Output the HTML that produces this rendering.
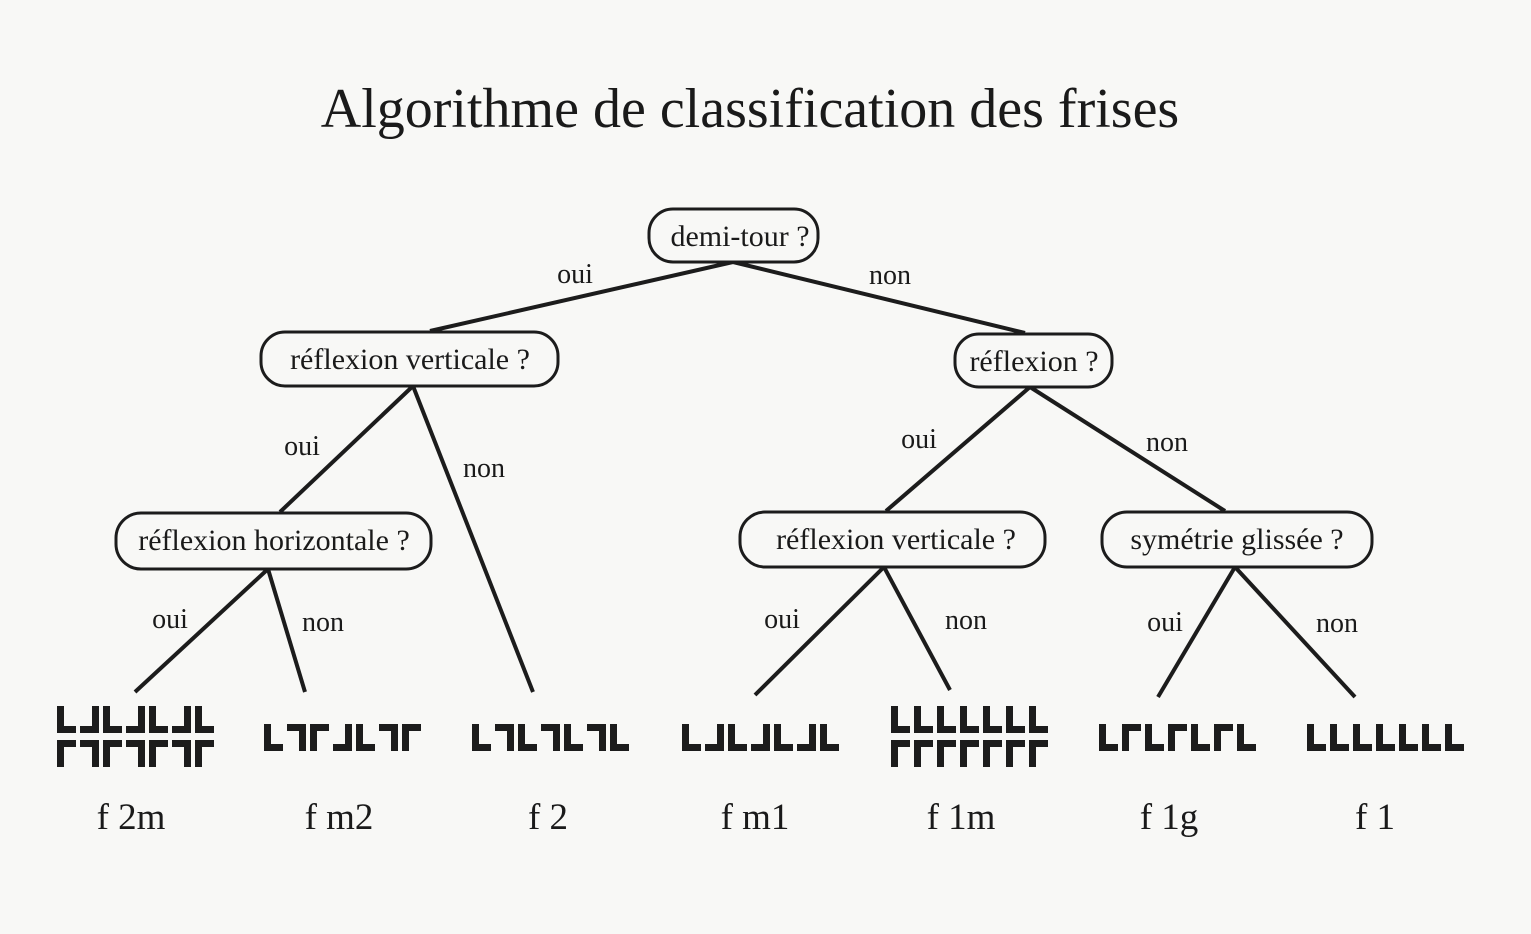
<!DOCTYPE html>
<html><head><meta charset="utf-8"><style>
html,body{margin:0;padding:0;background:#f8f8f6;}
svg{display:block}
text{font-family:"Liberation Serif",serif;fill:#1a1a1a}
</style></head><body>
<svg width="1531" height="934" viewBox="0 0 1531 934" xmlns="http://www.w3.org/2000/svg">
<defs>
<path id="L" d="M0 0H7V20H19V27H0Z" fill="#1c1c1c"/>
</defs>
<rect width="1531" height="934" fill="#f8f8f6"/>
<text x="750" y="127" font-size="56" text-anchor="middle">Algorithme de classification des frises</text>

<g stroke="#1c1c1c" stroke-width="4" fill="none">
<line x1="733" y1="262" x2="430" y2="331"/>
<line x1="733" y1="262" x2="1025" y2="333"/>
<line x1="413" y1="386" x2="280" y2="512"/>
<line x1="413" y1="386" x2="533" y2="692"/>
<line x1="1030" y1="387" x2="886" y2="511"/>
<line x1="1030" y1="387" x2="1225" y2="511"/>
<line x1="268" y1="569" x2="135" y2="692"/>
<line x1="268" y1="569" x2="305" y2="692"/>
<line x1="884" y1="567" x2="755" y2="695"/>
<line x1="884" y1="567" x2="950" y2="690"/>
<line x1="1235" y1="567" x2="1158" y2="697"/>
<line x1="1235" y1="567" x2="1355" y2="697"/>
</g>
<g stroke="#1c1c1c" stroke-width="3" fill="#f8f8f6">
<rect x="649" y="209" width="169" height="53" rx="24"/>
<rect x="261" y="332" width="297" height="54" rx="24"/>
<rect x="955" y="334" width="157" height="53" rx="24"/>
<rect x="116" y="513" width="315" height="56" rx="25"/>
<rect x="740" y="512" width="305" height="55" rx="25"/>
<rect x="1102" y="512" width="270" height="55" rx="25"/>
</g>
<g font-size="30" text-anchor="middle">
<text x="740" y="246">demi-tour ?</text>
<text x="410" y="369">réflexion verticale ?</text>
<text x="1034" y="371">réflexion ?</text>
<text x="274" y="550">réflexion horizontale ?</text>
<text x="896" y="549">réflexion verticale ?</text>
<text x="1237" y="549">symétrie glissée ?</text>
</g>
<g font-size="28" text-anchor="middle">
<text x="575" y="283">oui</text><text x="890" y="284">non</text>
<text x="302" y="455">oui</text><text x="484" y="477">non</text>
<text x="919" y="448">oui</text><text x="1167" y="451">non</text>
<text x="170" y="628">oui</text><text x="323" y="631">non</text>
<text x="782" y="628">oui</text><text x="966" y="629">non</text>
<text x="1165" y="631">oui</text><text x="1337" y="632">non</text>
</g>
<g font-size="37" text-anchor="middle">
<text x="131" y="829">f 2m</text>
<text x="339" y="829">f m2</text>
<text x="548" y="829">f 2</text>
<text x="755" y="829">f m1</text>
<text x="961" y="829">f 1m</text>
<text x="1169" y="829">f 1g</text>
<text x="1375" y="829">f 1</text>
</g>

<!-- f2m -->
<g>
<use href="#L" transform="translate(57,706)"/>
<use href="#L" transform="translate(99,706) scale(-1,1)"/>
<use href="#L" transform="translate(103,706)"/>
<use href="#L" transform="translate(145,706) scale(-1,1)"/>
<use href="#L" transform="translate(149,706)"/>
<use href="#L" transform="translate(191,706) scale(-1,1)"/>
<use href="#L" transform="translate(195,706)"/>
<use href="#L" transform="translate(57,767) scale(1,-1)"/>
<use href="#L" transform="translate(99,767) scale(-1,-1)"/>
<use href="#L" transform="translate(103,767) scale(1,-1)"/>
<use href="#L" transform="translate(145,767) scale(-1,-1)"/>
<use href="#L" transform="translate(149,767) scale(1,-1)"/>
<use href="#L" transform="translate(191,767) scale(-1,-1)"/>
<use href="#L" transform="translate(195,767) scale(1,-1)"/>
</g>
<!-- fm2: L 7 Γ J L 7 Γ -->
<g>
<use href="#L" transform="translate(264,724)"/>
<use href="#L" transform="translate(306,751) scale(-1,-1)"/>
<use href="#L" transform="translate(310,751) scale(1,-1)"/>
<use href="#L" transform="translate(352,724) scale(-1,1)"/>
<use href="#L" transform="translate(356,724)"/>
<use href="#L" transform="translate(398,751) scale(-1,-1)"/>
<use href="#L" transform="translate(402,751) scale(1,-1)"/>
</g>
<!-- f2: L7L7L7L -->
<g>
<use href="#L" transform="translate(472,724)"/>
<use href="#L" transform="translate(514,751) scale(-1,-1)"/>
<use href="#L" transform="translate(518,724)"/>
<use href="#L" transform="translate(560,751) scale(-1,-1)"/>
<use href="#L" transform="translate(564,724)"/>
<use href="#L" transform="translate(606,751) scale(-1,-1)"/>
<use href="#L" transform="translate(610,724)"/>
</g>
<!-- fm1: LJLJLJL -->
<g>
<use href="#L" transform="translate(682,724)"/>
<use href="#L" transform="translate(724,724) scale(-1,1)"/>
<use href="#L" transform="translate(728,724)"/>
<use href="#L" transform="translate(770,724) scale(-1,1)"/>
<use href="#L" transform="translate(774,724)"/>
<use href="#L" transform="translate(816,724) scale(-1,1)"/>
<use href="#L" transform="translate(820,724)"/>
</g>
<!-- f1m -->
<g>
<use href="#L" transform="translate(891,706)"/><use href="#L" transform="translate(914,706)"/>
<use href="#L" transform="translate(937,706)"/><use href="#L" transform="translate(960,706)"/>
<use href="#L" transform="translate(983,706)"/><use href="#L" transform="translate(1006,706)"/>
<use href="#L" transform="translate(1029,706)"/>
<use href="#L" transform="translate(891,767) scale(1,-1)"/><use href="#L" transform="translate(914,767) scale(1,-1)"/>
<use href="#L" transform="translate(937,767) scale(1,-1)"/><use href="#L" transform="translate(960,767) scale(1,-1)"/>
<use href="#L" transform="translate(983,767) scale(1,-1)"/><use href="#L" transform="translate(1006,767) scale(1,-1)"/>
<use href="#L" transform="translate(1029,767) scale(1,-1)"/>
</g>
<!-- f1g: LΓLΓLΓL -->
<g>
<use href="#L" transform="translate(1099,724)"/>
<use href="#L" transform="translate(1122,751) scale(1,-1)"/>
<use href="#L" transform="translate(1145,724)"/>
<use href="#L" transform="translate(1168,751) scale(1,-1)"/>
<use href="#L" transform="translate(1191,724)"/>
<use href="#L" transform="translate(1214,751) scale(1,-1)"/>
<use href="#L" transform="translate(1237,724)"/>
</g>
<!-- f1 -->
<g>
<use href="#L" transform="translate(1307,724)"/><use href="#L" transform="translate(1330,724)"/>
<use href="#L" transform="translate(1353,724)"/><use href="#L" transform="translate(1376,724)"/>
<use href="#L" transform="translate(1399,724)"/><use href="#L" transform="translate(1422,724)"/>
<use href="#L" transform="translate(1445,724)"/>
</g>
</svg>
</body></html>
